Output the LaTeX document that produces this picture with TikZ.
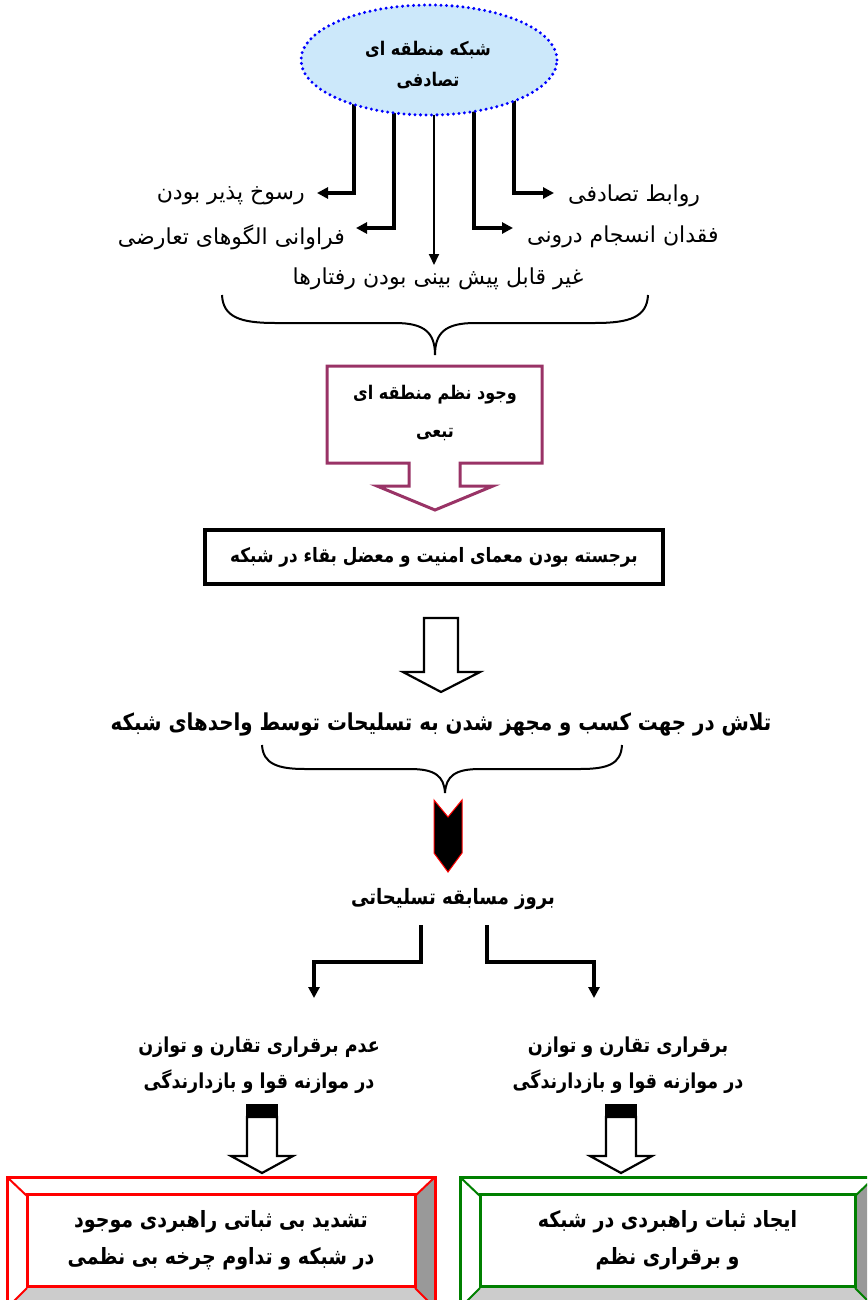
\documentclass[tikz,border=0pt]{standalone}
\usepackage{fontspec}
\usetikzlibrary{arrows.meta,shapes.geometric}
\TeXXeTstate=1
\newfontfamily\arf[Script=Arabic]{DejaVu Sans}
\newfontfamily\arb[Script=Arabic,FakeStretch=0.85]{DejaVu Sans}
\newcommand{\Rtxt}[1]{\beginR #1\endR}
\definecolor{ellfill}{RGB}{204,232,250}
\definecolor{purp}{RGB}{153,51,102}
\definecolor{grn}{RGB}{0,128,0}
\definecolor{bevdark}{RGB}{153,153,153}
\definecolor{bevlight}{RGB}{204,204,204}
\begin{document}
\begin{tikzpicture}[x=1pt,y=-1pt,
  lbl/.style={font=\arf\fontsize{22}{26}\selectfont, inner sep=0pt},
  blbl/.style={font=\arb\bfseries\fontsize{21}{37}\selectfont, inner sep=0pt, align=center},
  arr/.style={line width=3.2pt, -{Triangle[length=11pt,width=11pt]}},
  arrthin/.style={line width=2pt, -{Triangle[length=11pt,width=10pt]}},
  hollow/.style={draw=black, line width=2.2pt, fill=white, line join=miter},
  bracestyle/.style={line width=2pt},
  bevbox/.style={line width=3pt, line join=miter}]
\path[use as bounding box] (0,0) rectangle (867,1300);
\clip (0,0) rectangle (867,1300);

% start points on the ellipse and arrow ends
\coordinate (s1) at (354,95);
\coordinate (s2) at (394,100);
\coordinate (s3) at (434,100);
\coordinate (s4) at (474,100);
\coordinate (s5) at (514,95);
\coordinate (t1) at (317,193);
\coordinate (t2) at (356,228);
\coordinate (t3) at (434,265);
\coordinate (t4) at (513,228);
\coordinate (t5) at (554,193);

\draw[arr] (s1) |- (t1);
\draw[arr] (s2) |- (t2);
\draw[arrthin] (s3) -- (t3);
\draw[arr] (s4) |- (t4);
\draw[arr] (s5) |- (t5);

\node[ellipse, draw=blue, fill=ellfill, line width=3.3pt, dash pattern=on 0pt off 5.5pt, line cap=round,
      minimum width=256pt, minimum height=110pt, inner sep=0pt] (top) at (429,60) {};
\node[blbl, font=\arb\bfseries\fontsize{18.8}{31}\selectfont] (toptxt) at (428,65) {\Rtxt{شبکه منطقه ای}\\\Rtxt{تصادفی}};

\node[lbl, anchor=east] (l1) at (305,196) {\Rtxt{رسوخ پذیر بودن}};
\node[lbl, anchor=west] (l2) at (568,196) {\Rtxt{روابط تصادفی}};
\node[lbl, anchor=east] (l3) at (345,237) {\Rtxt{فراوانی الگوهای تعارضی}};
\node[lbl, anchor=west] (l4) at (527,237) {\Rtxt{فقدان انسجام درونی}};
\node[lbl] (l5) at (438,279) {\Rtxt{غیر قابل پیش بینی بودن رفتارها}};

% brace 1
\draw[bracestyle] (222,295) .. controls (223,317) and (240,323) .. (275,323) -- (395,323)
   .. controls (425,323) and (435,333) .. (435,355)
   .. controls (435,333) and (445,323) .. (475,323) -- (595,323)
   .. controls (630,323) and (647,317) .. (648,295);

% purple callout
\draw[purp, line width=3pt, fill=white, line join=miter]
  (327,366) -- (542,366) -- (542,463) -- (460,463) -- (460,486) -- (493,486) -- (435,510)
  -- (377,486) -- (409,486) -- (409,463) -- (327,463) -- cycle;
\node[blbl, font=\arb\bfseries\fontsize{18.8}{38}\selectfont] (n7) at (435,413) {\Rtxt{وجود نظم منطقه ای}\\\Rtxt{تبعی}};

% black box
\node[draw, line width=3.5pt, minimum width=458pt, minimum height=54pt, inner sep=0pt,
      font=\arb\bfseries\fontsize{19.8}{24}\selectfont] (n8) at (434,557) {\Rtxt{برجسته بودن معمای امنیت و معضل بقاء در شبکه}};

% hollow arrow
\draw[hollow] (424,618) -- (458,618) -- (458,672) -- (480,672) -- (441,692) -- (403,672) -- (424,672) -- cycle;

\node[blbl, font=\arb\bfseries\fontsize{23.3}{28}\selectfont] (n9) at (441,724) {\Rtxt{تلاش در جهت کسب و مجهز شدن به تسلیحات توسط واحدهای شبکه}};

% brace 2
\draw[bracestyle] (262,745) .. controls (263,764) and (278,769) .. (305,769) -- (410,769)
   .. controls (435,769) and (444,776) .. (445,793)
   .. controls (446,776) and (455,769) .. (480,769) -- (580,769)
   .. controls (608,769) and (621,764) .. (622,745);

% black chevron
\draw[red, line width=1pt, fill=black, line join=miter]
  (434,800) -- (448,817) -- (462,800) -- (462,853) -- (448,872) -- (434,853) -- cycle;

\node[blbl, font=\arb\bfseries\fontsize{21.2}{26}\selectfont] (n10) at (453,899) {\Rtxt{بروز مسابقه تسلیحاتی}};

% fork
\coordinate (f1) at (421,925);
\coordinate (fm1) at (314,962);
\coordinate (f2) at (314,998);
\coordinate (g1) at (487,925);
\coordinate (gm1) at (594,962);
\coordinate (g2) at (594,998);
\draw[arr, line width=3.5pt, line join=miter] (f1) |- (fm1) -- (f2);
\draw[arr, line width=3.5pt, line join=miter] (g1) |- (gm1) -- (g2);

\node[blbl, font=\arb\bfseries\fontsize{20.6}{36}\selectfont] (n11) at (259,1065) {\Rtxt{عدم برقراری تقارن و توازن}\\\Rtxt{در موازنه قوا و بازدارندگی}};
\node[blbl, font=\arb\bfseries\fontsize{20.6}{36}\selectfont] (n12) at (628,1065) {\Rtxt{برقراری تقارن و توازن}\\\Rtxt{در موازنه قوا و بازدارندگی}};

% capped hollow arrows
\draw[hollow] (247,1117) -- (277,1117) -- (277,1156) -- (293,1156) -- (262,1173) -- (231,1156) -- (247,1156) -- cycle;
\fill[black] (246,1104) rectangle (278,1117);
\draw[hollow] (606,1117) -- (636,1117) -- (636,1156) -- (652,1156) -- (621,1173) -- (590,1156) -- (606,1156) -- cycle;
\fill[black] (605,1104) rectangle (637,1117);

% left bevel box (red)
\fill[white] (7,1177) -- (435,1177) -- (415,1196) -- (27,1196) -- cycle;
\fill[white] (7,1177) -- (27,1196) -- (27,1288) -- (7,1308) -- cycle;
\fill[bevdark] (435,1177) -- (435,1308) -- (415,1288) -- (415,1196) -- cycle;
\fill[bevlight] (7,1308) -- (27,1288) -- (415,1288) -- (435,1308) -- cycle;
\draw[red, bevbox] (7,1177) rectangle (435,1308);
\draw[red, line width=2pt] (7,1177) -- (27,1196) (435,1177) -- (415,1196) (7,1308) -- (27,1288) (435,1308) -- (415,1288);
\node[draw=red, line width=3pt, minimum width=388pt, minimum height=92pt, inner sep=0pt,
      blbl, font=\arb\bfseries\fontsize{22.4}{37}\selectfont] (n13) at (221,1240) {\Rtxt{تشدید بی ثباتی راهبردی موجود}\\\Rtxt{در شبکه و تداوم چرخه بی نظمی}};

% right bevel box (green)
\fill[white] (460,1177) -- (875,1177) -- (855,1196) -- (480,1196) -- cycle;
\fill[white] (460,1177) -- (480,1196) -- (480,1288) -- (460,1308) -- cycle;
\fill[bevdark] (875,1177) -- (875,1308) -- (855,1288) -- (855,1196) -- cycle;
\fill[bevlight] (460,1308) -- (480,1288) -- (855,1288) -- (875,1308) -- cycle;
\draw[grn, bevbox] (460,1177) rectangle (875,1308);
\draw[grn, line width=2pt] (460,1177) -- (480,1196) (875,1177) -- (855,1196) (460,1308) -- (480,1288) (875,1308) -- (855,1288);
\node[draw=grn, line width=3pt, minimum width=375pt, minimum height=92pt, inner sep=0pt,
      blbl, font=\arb\bfseries\fontsize{22.4}{37}\selectfont] (n14) at (667.5,1240) {\Rtxt{ایجاد ثبات راهبردی در شبکه}\\\Rtxt{و برقراری نظم}};
\end{tikzpicture}
\end{document}
